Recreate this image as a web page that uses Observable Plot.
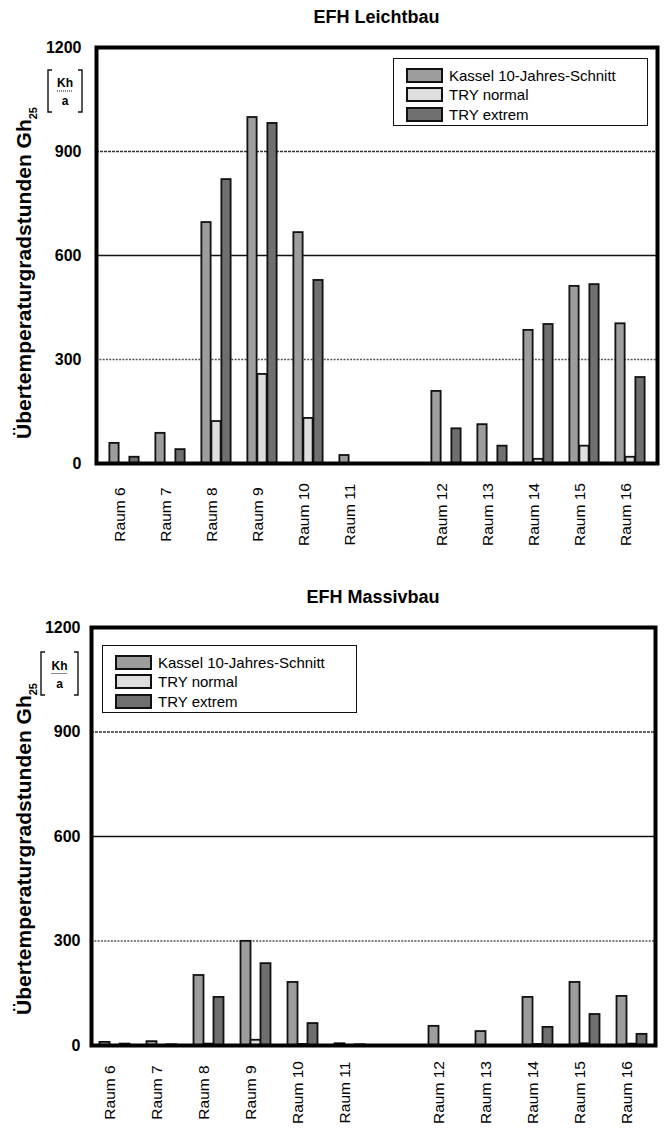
<!DOCTYPE html>
<html>
<head>
<meta charset="utf-8">
<script src="https://cdn.jsdelivr.net/npm/d3@7"></script>
<script src="https://cdn.jsdelivr.net/npm/@observablehq/plot@0.6"></script>
<style>
  html, body { margin: 0; padding: 0; background: #fff; }
  body { width: 666px; height: 1133px; position: relative; overflow: hidden;
         font-family: "Liberation Sans", Arial, Helvetica, sans-serif; color: #000; }
  .abs { position: absolute; }
  .title { font-weight: bold; font-size: 18px; line-height: 20px; text-align: center; }
  .legend { box-sizing: border-box; border: 1.5px solid #111; background: #fff; width: 255px; height: 68px; }
  .legend .row { position: absolute; left: 12px; height: 18px; display: flex; align-items: center; font-size: 15px; white-space: nowrap; }
  .legend .sw { box-sizing: border-box; width: 37px; height: 15px; border: 2px solid #111; margin-right: 6px; }
  svg g[aria-label="y-axis tick label"] text { font-weight: bold; }
</style>
</head>
<body>
<script>
// ---------- data ----------
const rooms = ["Raum 6","Raum 7","Raum 8","Raum 9","Raum 10","Raum 11","Raum 12","Raum 13","Raum 14","Raum 15","Raum 16"];
const gapSlot = " ";
const xDomain = [...rooms.slice(0, 6), gapSlot, ...rooms.slice(6)];
const seriesNames = ["Kassel 10-Jahres-Schnitt", "TRY normal", "TRY extrem"];
const seriesFill = ["#9d9d9d", "#dedede", "#6f6f6f"];
const yTicks = [0, 300, 600, 900, 1200];

// EFH Leichtbau
const leichtKassel = [58, 87, 695, 998, 666, 23, 208, 112, 384, 511, 403];
const leichtNormal = [0, 0, 121, 257, 130, 0, 0, 0, 12, 50, 18];
const leichtExtrem = [18, 40, 819, 981, 528, 0, 100, 50, 401, 516, 248];

// EFH Massivbau
const massivKassel = [9, 11, 201, 299, 181, 5, 55, 40, 138, 181, 141];
const massivNormal = [0, 0, 4, 15, 3, 0, 0, 0, 3, 5, 4];
const massivExtrem = [4, 2, 138, 235, 63, 2, 0, 0, 52, 89, 32];

const titles = ["EFH Leichtbau", "EFH Massivbau"];

// ---------- builder ----------
function buildChart(cfg) {
  const values = cfg.values;
  const table = rooms.flatMap((r, i) => seriesNames.map((s, j) => ({room: r, series: s, value: values[j][i]})));
  const W = 666;
  const band = (W - cfg.mL - cfg.mR) / xDomain.length;
  const barW = 10;
  const inset = (band - barW) / 2;

  const svg = Plot.plot({
    width: W,
    height: cfg.height,
    marginTop: cfg.mT,
    marginBottom: cfg.mB,
    marginLeft: cfg.mL,
    marginRight: cfg.mR,
    style: {fontFamily: '"Liberation Sans", Arial, sans-serif', fontSize: "15px", color: "#000", background: "transparent"},
    x: {domain: xDomain, padding: 0, axis: null},
    y: {domain: [0, 1200]},
    marks: [
      Plot.ruleY([300], {stroke: "#555", strokeWidth: 1.4, strokeDasharray: "2,1.3"}),
      Plot.ruleY([900], {stroke: "#333", strokeWidth: 1.5, strokeDasharray: "3,1"}),
      Plot.ruleY([600], {stroke: "#111", strokeWidth: 1.7}),
      ...seriesNames.map((s, j) => Plot.barY(table.filter(d => d.series === s), {
        x: "room", y: "value", fill: seriesFill[j], stroke: "#111", strokeWidth: 1.8,
        insetLeft: inset, insetRight: inset, dx: (j - 1) * barW
      })),
      Plot.frame({stroke: "#000", strokeWidth: 4}),
      Plot.text(rooms, {x: d => d, frameAnchor: "bottom", dy: cfg.labelDy, rotate: -90, fontSize: 15.5, textAnchor: "middle"}),
      Plot.axisY({ticks: yTicks, tickSize: 0, tickPadding: cfg.tickPad, tickFormat: d => String(d), fontSize: 16, fontWeight: "bold", label: null})
    ]
  });
  svg.style.position = "absolute";
  svg.style.left = "0px";
  svg.style.top = cfg.top + "px";
  document.body.appendChild(svg);

  // y-axis title with subscript
  const s = d3.select(svg);
  const yl = s.append("text")
    .attr("transform", `translate(${cfg.ylX},${cfg.ylY}) rotate(-90)`)
    .attr("text-anchor", "start")
    .attr("font-size", 21).attr("font-weight", "bold").attr("fill", "#000")
    .attr("font-family", '"Liberation Sans", Arial, sans-serif');
  yl.append("tspan").text("Übertemperaturgradstunden Gh");
  yl.append("tspan").attr("font-size", 11).attr("dy", 6).text("25");

  // unit [Kh / a]
  const u = cfg.unit; // {x0, x1, y0, y1}
  const g = s.append("g").attr("fill", "none").attr("stroke", "#111").attr("stroke-width", 1.4);
  g.append("path").attr("d", `M${u.x0 + 4},${u.y0}H${u.x0}V${u.y1}H${u.x0 + 4}`);
  g.append("path").attr("d", `M${u.x1 - 4},${u.y0}H${u.x1}V${u.y1}H${u.x1 - 4}`);
  const cx = (u.x0 + u.x1) / 2, cy = (u.y0 + u.y1) / 2;
  g.append("line").attr("x1", cx - 8).attr("x2", cx + 8).attr("y1", cy).attr("y2", cy)
    .attr("stroke-width", 1).attr("stroke-dasharray", "1,1");
  const ut = s.append("g").attr("font-size", 12).attr("font-weight", "bold").attr("text-anchor", "middle")
    .attr("font-family", '"Liberation Sans", Arial, sans-serif');
  ut.append("text").attr("x", cx).attr("y", cy - 4).text("Kh");
  ut.append("text").attr("x", cx).attr("y", cy + 14).text("a");

  // title
  const t = document.createElement("div");
  t.className = "abs title";
  t.style.left = cfg.mL + "px";
  t.style.width = (W - cfg.mL - cfg.mR) + "px";
  t.style.top = cfg.titleTop + "px";
  t.textContent = cfg.title;
  document.body.appendChild(t);

  // legend
  const lg = document.createElement("div");
  lg.className = "abs legend";
  lg.style.left = cfg.legend.x + "px";
  lg.style.top = cfg.legend.y + "px";
  seriesNames.forEach((name, j) => {
    const row = document.createElement("div");
    row.className = "row";
    row.style.top = (7 + j * 19.5) + "px";
    const sw = document.createElement("span");
    sw.className = "sw";
    sw.style.background = seriesFill[j];
    const tx = document.createElement("span");
    tx.textContent = name;
    row.appendChild(sw); row.appendChild(tx);
    lg.appendChild(row);
  });
  document.body.appendChild(lg);
}

buildChart({
  values: [leichtKassel, leichtNormal, leichtExtrem],
  title: titles[0], titleTop: 7,
  top: 0, height: 570, mT: 47, mB: 107, mL: 96, mR: 9,
  tickPad: 15, labelDy: 51,
  ylX: 31, ylY: 439,
  unit: {x0: 48, x1: 82, y0: 70, y1: 112},
  legend: {x: 393, y: 58}
});

buildChart({
  values: [massivKassel, massivNormal, massivExtrem],
  title: titles[1], titleTop: 587,
  top: 575, height: 558, mT: 52, mB: 88, mL: 91, mR: 11,
  tickPad: 11, labelDy: 47,
  ylX: 31, ylY: 1015 - 575,
  unit: {x0: 41, x1: 78, y0: 652 - 575, y1: 695 - 575},
  legend: {x: 102, y: 645}
});
</script>
</body>
</html>
